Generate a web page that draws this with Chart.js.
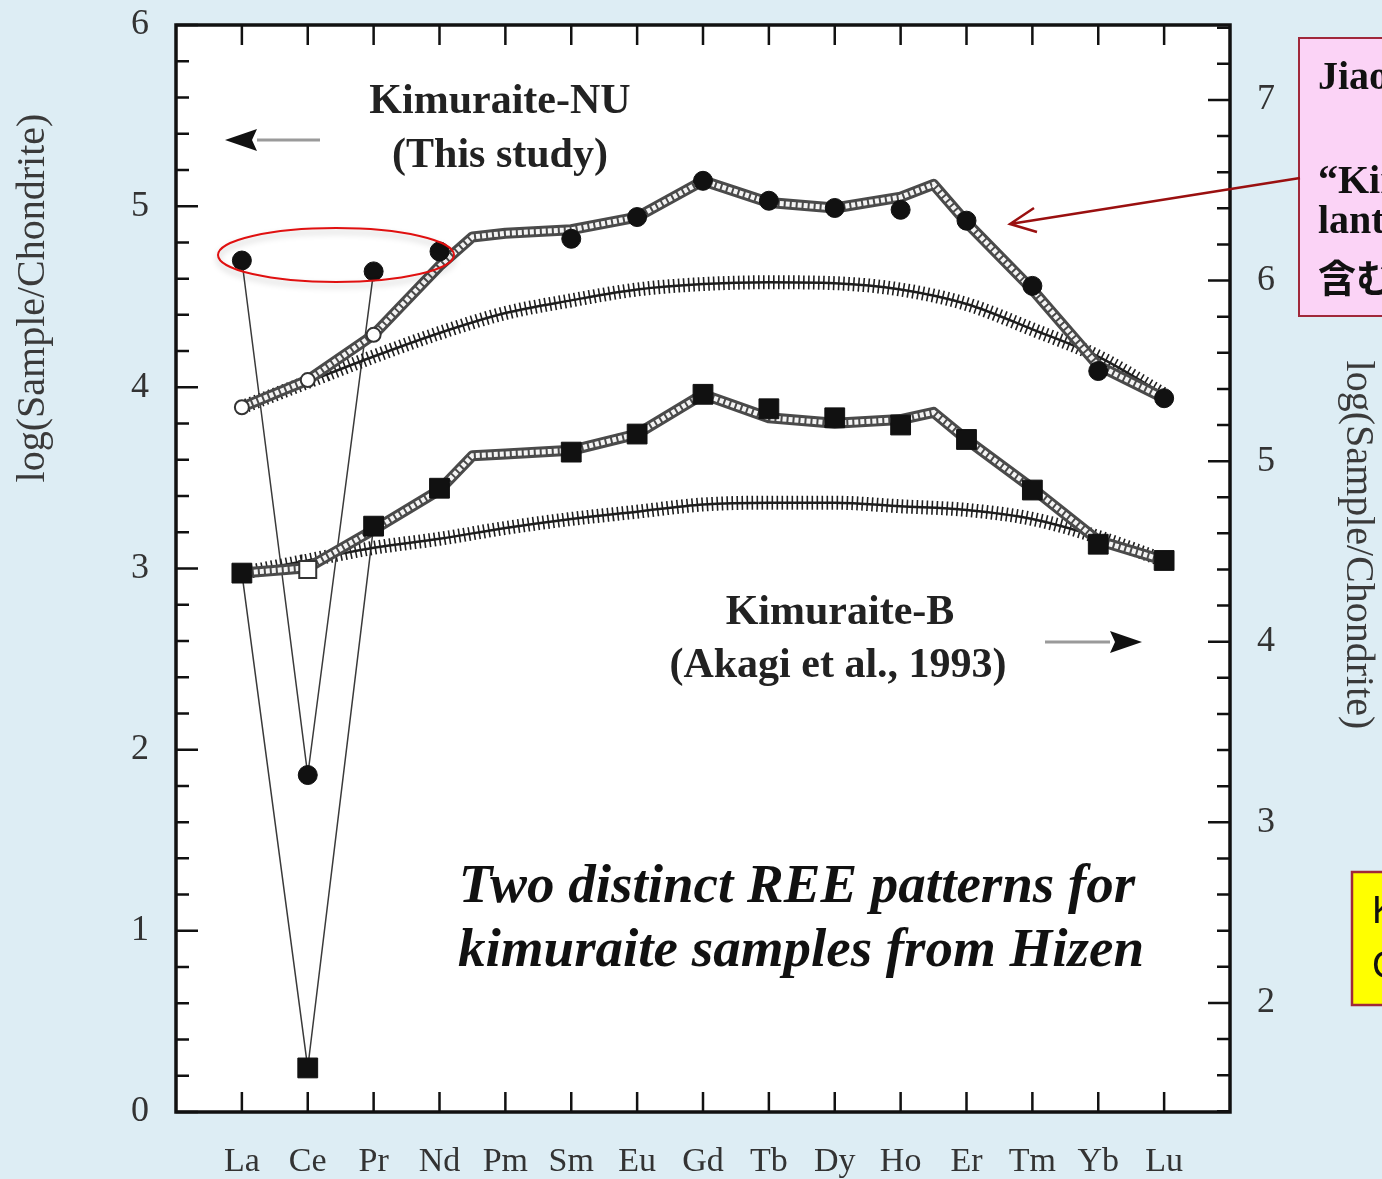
<!DOCTYPE html>
<html>
<head>
<meta charset="utf-8">
<script src="https://cdn.jsdelivr.net/npm/chart.js@4.4.1/dist/chart.umd.min.js"></script>
<style>
  body { margin: 0; background: #ddedf4; }
  #wrap { width: 1382px; height: 1179px; }
</style>
</head>
<body>
<div id="wrap"><canvas id="chart" width="1382" height="1179"></canvas></div>
<script>
// ===== DATA =====
const elements = ['La', 'Ce', 'Pr', 'Nd', 'Pm', 'Sm', 'Eu', 'Gd', 'Tb', 'Dy', 'Ho', 'Er', 'Tm', 'Yb', 'Lu']

// Kimuraite-NU (left axis)
const nuMeasured = [4.70, 1.86, 4.64, 4.75, null, 4.82, 4.94, 5.14, 5.03, 4.99, 4.98, 4.92, 4.56, 4.09, 3.94]
const nuOpen = [3.89, 4.04, 4.29]
const nuSmooth = [3.89, 4.03, 4.17, 4.30, 4.41, 4.48, 4.54, 4.57, 4.58, 4.575, 4.54, 4.46, 4.32, 4.17, 3.96]

// tetrad pattern lines (x in element index, kinks between Nd/Pm and Ho/Er)
const patternX = [1, 2, 3, 4, 4.5, 5, 6, 7, 8, 9, 10, 11, 11.5, 12, 13, 14, 15]
const nuPattern = [3.89, 4.04, 4.29, 4.67, 4.83, 4.85, 4.87, 4.94, 5.14, 5.02, 4.99, 5.05, 5.12, 4.91, 4.54, 4.12, 3.94]

// Kimuraite-B (right axis)
const bMeasured = [4.38, 1.64, 4.64, 4.85, null, 5.05, 5.15, 5.37, 5.29, 5.24, 5.20, 5.12, 4.84, 4.54, 4.45]
const bOpen = [null, 4.40]
const bSmooth = [4.38, 4.45, 4.52, 4.57, 4.63, 4.68, 4.72, 4.76, 4.77, 4.77, 4.75, 4.73, 4.68, 4.58, 4.45]
const bPattern = [4.38, 4.41, 4.62, 4.84, 5.03, 5.04, 5.06, 5.15, 5.37, 5.24, 5.21, 5.23, 5.27, 5.12, 4.85, 4.56, 4.45]

const leftTicks = [0, 1, 2, 3, 4, 5, 6]
const rightTicks = [2, 3, 4, 5, 6, 7]

const serif = "'Liberation Serif', 'Times New Roman', serif"

const pts = (arr, start = 1) => arr.map((v, i) => ({ x: i + start, y: v })).filter(p => p.y !== null)
const onX = (xs, ys) => xs.map((x, i) => ({ x: x, y: ys[i] }))

// ===== HELPERS =====
function arrow(ctx, x1, x2, y) {
    // grey shaft + black head pointing at x2
    const dir = Math.sign(x2 - x1)
    const hx = x2 - dir * 32
    ctx.strokeStyle = '#9a9a9a'
    ctx.lineWidth = 3
    ctx.beginPath()
    ctx.moveTo(x1, y)
    ctx.lineTo(hx, y)
    ctx.stroke()
    ctx.fillStyle = '#111'
    ctx.beginPath()
    ctx.moveTo(x2, y)
    ctx.lineTo(hx, y - 11)
    ctx.lineTo(hx + dir * 5, y)
    ctx.lineTo(hx, y + 11)
    ctx.closePath()
    ctx.fill()
}

const frame = {
    id: 'frame',
    beforeDraw(chart) {
        const { ctx, chartArea: a } = chart
        ctx.save()
        ctx.fillStyle = '#ddedf4'
        ctx.fillRect(0, 0, chart.width, chart.height)
        ctx.fillStyle = '#fff'
        ctx.fillRect(a.left, a.top, a.right - a.left, a.bottom - a.top)
        ctx.restore()
    },
    afterDraw(chart) {
        const { ctx, chartArea: a, scales } = chart
        ctx.save()

        // ticks pointing inward
        ctx.strokeStyle = '#111'
        ctx.lineWidth = 2.5
        ctx.beginPath()
        for (let k = 0; k <= 30; k++) {
            const y = scales.y.getPixelForValue(k / 5)
            const len = k % 5 === 0 ? 22 : 13
            ctx.moveTo(a.left, y)
            ctx.lineTo(a.left + len, y)
        }
        for (let k = 7; k <= 37; k++) {
            const y = scales.y2.getPixelForValue(k / 5)
            if (y < a.top || y > a.bottom) continue
            const len = k % 5 === 0 ? 22 : 13
            ctx.moveTo(a.right, y)
            ctx.lineTo(a.right - len, y)
        }
        for (let i = 1; i <= elements.length; i++) {
            const x = scales.x.getPixelForValue(i)
            ctx.moveTo(x, a.top)
            ctx.lineTo(x, a.top + 20)
            ctx.moveTo(x, a.bottom)
            ctx.lineTo(x, a.bottom - 20)
        }
        ctx.stroke()

        // plot frame
        ctx.lineWidth = 3.5
        ctx.strokeRect(a.left, a.top, a.right - a.left, a.bottom - a.top)

        // axis titles
        ctx.fillStyle = '#3a3a3a'
        ctx.font = '40px ' + serif
        ctx.textAlign = 'center'
        ctx.textBaseline = 'middle'
        ctx.save()
        ctx.translate(33, 298)
        ctx.rotate(-Math.PI / 2)
        ctx.fillText('log(Sample/Chondrite)', 0, 0)
        ctx.restore()
        ctx.save()
        ctx.translate(1357, 545)
        ctx.rotate(Math.PI / 2)
        ctx.fillText('log(Sample/Chondrite)', 0, 0)
        ctx.restore()

        // series labels
        ctx.fillStyle = '#222'
        ctx.font = 'bold 42px ' + serif
        ctx.fillText('Kimuraite-NU', 500, 102)
        ctx.fillText('(This study)', 500, 156)
        ctx.fillText('Kimuraite-B', 840, 613)
        ctx.fillText('(Akagi et al., 1993)', 838, 666)
        arrow(ctx, 320, 225, 140)
        arrow(ctx, 1045, 1142, 642)

        ctx.font = 'italic bold 55px ' + serif
        ctx.fillText('Two distinct REE patterns for', 797, 888)
        ctx.fillText('kimuraite samples from Hizen', 801, 952)

        // red ellipse around La, Pr, Nd
        ctx.save()
        ctx.shadowColor = 'rgba(0,0,0,0.25)'
        ctx.shadowBlur = 6
        ctx.shadowOffsetY = 4
        ctx.strokeStyle = '#e01010'
        ctx.lineWidth = 2
        ctx.beginPath()
        ctx.ellipse(336, 255, 118, 27, 0, 0, Math.PI * 2)
        ctx.stroke()
        ctx.restore()

        // pink note box
        ctx.fillStyle = '#fbd3f6'
        ctx.fillRect(1299, 38, 100, 278)
        ctx.strokeStyle = '#a0283a'
        ctx.lineWidth = 2
        ctx.strokeRect(1299, 38, 100, 278)
        ctx.fillStyle = '#111'
        ctx.textAlign = 'left'
        ctx.textBaseline = 'alphabetic'
        ctx.font = 'bold 40px ' + serif
        ctx.fillText('Jiao', 1318, 89)
        ctx.fillText('\u201cKimuraite\u201d', 1318, 193)
        ctx.fillText('lanthanide', 1318, 233)
        ctx.font = "bold 38px 'Noto Sans CJK JP', sans-serif"
        ctx.fillText('含む', 1318, 292)

        // red pointer to the NU pattern
        ctx.strokeStyle = '#9a1010'
        ctx.lineWidth = 2.5
        ctx.beginPath()
        ctx.moveTo(1300, 178)
        ctx.lineTo(1010, 224)
        ctx.moveTo(1034, 208)
        ctx.lineTo(1010, 224)
        ctx.lineTo(1037, 232)
        ctx.stroke()

        // yellow box
        ctx.fillStyle = '#ffff00'
        ctx.fillRect(1352, 872, 60, 133)
        ctx.strokeStyle = '#a0283a'
        ctx.strokeRect(1352, 872, 60, 133)
        ctx.fillStyle = '#111'
        ctx.font = "38px 'Liberation Sans', Arial, sans-serif"
        ctx.textBaseline = 'middle'
        ctx.fillText('K', 1372, 913)
        ctx.fillText('C', 1372, 968)

        ctx.restore()
    }
}

// ===== CHART =====
const ctx = document.querySelector('#chart').getContext('2d')

const chainOuter = { borderColor: '#4a4a4a', borderWidth: 11, pointRadius: 0, borderJoinStyle: 'round' }
const chainInner = { borderColor: '#f4f4f4', borderWidth: 5, borderDash: [4, 2], pointRadius: 0 }
const hatchTicks = { borderColor: '#1e1e1e', borderWidth: 14, borderDash: [1.6, 3.4], pointRadius: 0, cubicInterpolationMode: 'monotone' }
const hatchLine = { borderColor: '#1e1e1e', borderWidth: 2.5, pointRadius: 0, cubicInterpolationMode: 'monotone' }
const thin = { borderColor: '#3a3a3a', borderWidth: 1.5, pointRadius: 0 }

const noPadY = s => { s.paddingTop = 0; s.paddingBottom = 0 }

new Chart(ctx, {
    type: 'line',
    data: {
        datasets: [
            { data: pts(nuMeasured), yAxisID: 'y', showLine: false, pointStyle: 'circle', pointRadius: 9.5, backgroundColor: '#111', borderColor: '#111' },
            { data: pts(bMeasured), yAxisID: 'y2', showLine: false, pointStyle: 'rect', pointRadius: 14, backgroundColor: '#111', borderColor: '#111' },
            { data: pts(nuOpen), yAxisID: 'y', showLine: false, pointStyle: 'circle', pointRadius: 7, backgroundColor: '#fff', borderColor: '#333', borderWidth: 2 },
            { data: pts(bOpen), yAxisID: 'y2', showLine: false, pointStyle: 'rect', pointRadius: 12, backgroundColor: '#fff', borderColor: '#333', borderWidth: 2 },
            { data: onX(patternX, nuPattern), yAxisID: 'y', ...chainInner },
            { data: onX(patternX, nuPattern), yAxisID: 'y', ...chainOuter },
            { data: onX(patternX, bPattern), yAxisID: 'y2', ...chainInner },
            { data: onX(patternX, bPattern), yAxisID: 'y2', ...chainOuter },
            { data: pts(nuSmooth), yAxisID: 'y', ...hatchTicks },
            { data: pts(nuSmooth), yAxisID: 'y', ...hatchLine },
            { data: pts(bSmooth), yAxisID: 'y2', ...hatchTicks },
            { data: pts(bSmooth), yAxisID: 'y2', ...hatchLine },
            { data: pts(nuMeasured.slice(0, 3)), yAxisID: 'y', ...thin },
            { data: pts(bMeasured.slice(0, 3)), yAxisID: 'y2', ...thin }
        ]
    },
    options: {
        responsive: false,
        animation: false,
        events: [],
        layout: { padding: { top: 25 } },
        plugins: { legend: { display: false }, tooltip: { enabled: false } },
        scales: {
            x: {
                type: 'linear', position: 'bottom', min: 0, max: 16,
                afterFit: s => { s.height = 67; s.paddingLeft = 0; s.paddingRight = 0 },
                afterBuildTicks: s => { s.ticks = elements.map((_, i) => ({ value: i + 1 })) },
                grid: { display: false, drawTicks: false }, border: { display: false },
                ticks: { padding: 30, color: '#333', font: { family: serif, size: 34 }, maxRotation: 0, autoSkip: false,
                         callback: v => elements[v - 1] }
            },
            y: {
                position: 'left', min: 0, max: 6,
                afterFit: s => { s.width = 176; noPadY(s) },
                afterBuildTicks: s => { s.ticks = leftTicks.map(v => ({ value: v })) },
                grid: { display: false, drawTicks: false }, border: { display: false },
                ticks: { padding: 27, color: '#333', font: { family: serif, size: 36 } }
            },
            y2: {
                position: 'right', min: 1.396, max: 7.415,
                afterFit: s => { s.width = 152; noPadY(s) },
                afterBuildTicks: s => { s.ticks = rightTicks.map(v => ({ value: v })) },
                grid: { display: false, drawTicks: false }, border: { display: false },
                ticks: { padding: 27, color: '#333', font: { family: serif, size: 36 } }
            }
        }
    },
    plugins: [frame]
})
</script>
</body>
</html>
